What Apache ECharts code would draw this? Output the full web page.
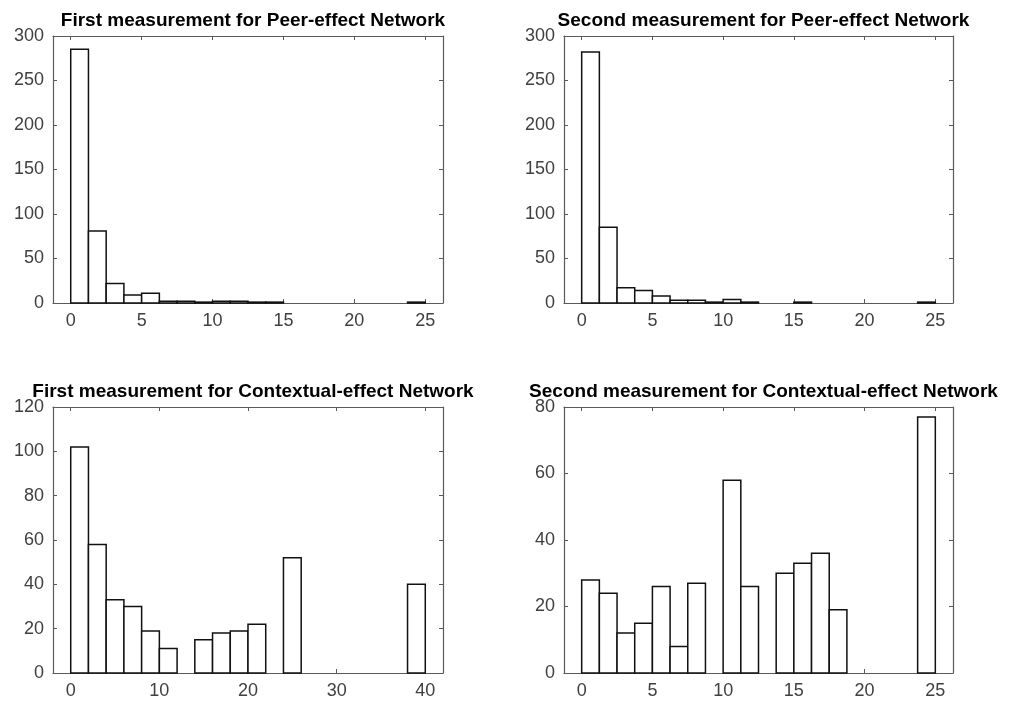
<!DOCTYPE html>
<html>
<head>
<meta charset="utf-8">
<script src="https://cdn.jsdelivr.net/npm/echarts@6/dist/echarts.min.js"></script>
<style>
html,body{margin:0;padding:0;background:#fff;}
#chart{width:1017px;height:704px;}
</style>
</head>
<body>
<div id="chart"></div>
<script>
// ---- Data ----
const titles = [
  'First measurement for Peer-effect Network',
  'Second measurement for Peer-effect Network',
  'First measurement for Contextual-effect Network',
  'Second measurement for Contextual-effect Network'
];
// counts per bin (20 bins each)
const peerFirst = [285, 81, 22, 9, 11, 2, 2, 1, 2, 2, 1, 1, 0, 0, 0, 0, 0, 0, 0, 1];
const peerSecond = [282, 85, 17, 14, 8, 3, 3, 1, 4, 1, 0, 0, 1, 0, 0, 0, 0, 0, 0, 1];
const ctxFirst = [102, 58, 33, 30, 19, 11, 0, 15, 18, 19, 22, 0, 52, 0, 0, 0, 0, 0, 0, 40];
const ctxSecond = [28, 24, 12, 15, 26, 8, 27, 0, 58, 26, 0, 30, 33, 36, 19, 0, 0, 0, 0, 77];
// bin widths
const binWidths = [1.25, 1.25, 2, 1.25];
// axis limits & ticks
const xLimits = [[-1.25, 26.25], [-1.25, 26.25], [-2, 42], [-1.25, 26.25]];
const xTicks = [[0, 5, 10, 15, 20, 25], [0, 5, 10, 15, 20, 25], [0, 10, 20, 30, 40], [0, 5, 10, 15, 20, 25]];
const yMax = [300, 300, 120, 80];
const yInterval = [50, 50, 20, 20];

const allCounts = [peerFirst, peerSecond, ctxFirst, ctxSecond];

// ---- Layout ----
const grids = [
  {left: 53, top: 36, width: 390, height: 267},
  {left: 564, top: 36, width: 389, height: 267},
  {left: 53, top: 407, width: 390, height: 266},
  {left: 564, top: 407, width: 389, height: 266}
];
const titleTops = [6, 6, 377, 377];

const FONT = "'Liberation Sans', Arial, Helvetica, sans-serif";
const axisColor = '#5a5a5a';
const labelColor = '#404040';

const option = {
  animation: false,
  backgroundColor: '#fff',
  title: [],
  grid: [],
  xAxis: [],
  yAxis: [],
  series: []
};

for (let k = 0; k < 4; k++) {
  const g = grids[k];
  option.grid.push(Object.assign({outerBoundsMode: 'none', containLabel: false}, g));
  option.title.push({
    text: titles[k],
    left: g.left + g.width / 2,
    textAlign: 'center',
    top: titleTops[k],
    textStyle: {fontFamily: FONT, fontWeight: 'bold', fontSize: 19, color: '#000'}
  });
  const baseX = {
    type: 'value', gridIndex: k, min: xLimits[k][0], max: xLimits[k][1],
    splitLine: {show: false},
    axisLine: {show: true, onZero: false, lineStyle: {color: axisColor, width: 1.2}}
  };
  option.xAxis.push(Object.assign({}, baseX, {
    position: 'bottom',
    axisTick: {show: true, inside: true, length: 4, customValues: xTicks[k], lineStyle: {color: axisColor}},
    axisLabel: {show: true, customValues: xTicks[k], margin: 9, fontSize: 18, fontFamily: FONT, color: labelColor}
  }));
  option.xAxis.push(Object.assign({}, baseX, {
    position: 'top',
    axisTick: {show: true, inside: true, length: 4, customValues: xTicks[k], lineStyle: {color: axisColor}},
    axisLabel: {show: false}
  }));
  const baseY = {
    type: 'value', gridIndex: k, min: 0, max: yMax[k], interval: yInterval[k],
    splitLine: {show: false},
    axisLine: {show: true, onZero: false, lineStyle: {color: axisColor, width: 1.2}}
  };
  option.yAxis.push(Object.assign({}, baseY, {
    position: 'left',
    axisTick: {show: true, inside: true, length: 4, lineStyle: {color: axisColor}},
    axisLabel: {show: true, margin: 9, fontSize: 18, fontFamily: FONT, color: labelColor}
  }));
  option.yAxis.push(Object.assign({}, baseY, {
    position: 'right',
    axisTick: {show: true, inside: true, length: 4, lineStyle: {color: axisColor}},
    axisLabel: {show: false}
  }));

  const w = binWidths[k];
  const data = allCounts[k].map((c, i) => [i * w, (i + 1) * w, c]);
  option.series.push({
    type: 'custom',
    xAxisIndex: 2 * k,
    yAxisIndex: 2 * k,
    data: data,
    z: 3,
    renderItem: function (params, api) {
      const c = api.value(2);
      if (!c) return null;
      const p0 = api.coord([api.value(0), c]);
      const p1 = api.coord([api.value(1), 0]);
      return {
        type: 'rect',
        shape: {x: p0[0], y: p0[1], width: p1[0] - p0[0], height: p1[1] - p0[1]},
        style: {fill: '#fff', stroke: '#111', lineWidth: 1.5}
      };
    }
  });
}

const chart = echarts.init(document.getElementById('chart'), null, {renderer: 'canvas'});
chart.setOption(option);
</script>
</body>
</html>
